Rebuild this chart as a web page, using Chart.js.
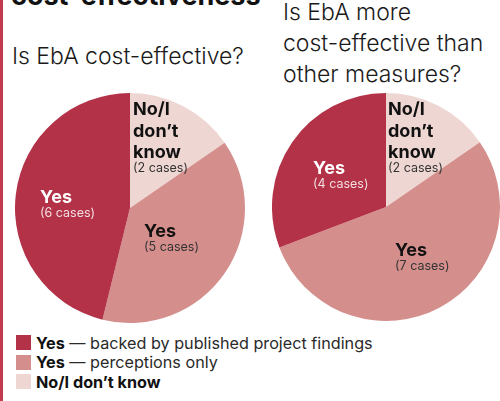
<!DOCTYPE html>
<html>
<head>
<meta charset="utf-8">
<script src="https://cdn.jsdelivr.net/npm/chart.js@4"></script>
<style>
  html, body { margin: 0; padding: 0; }
  body {
    width: 500px; height: 401px; position: relative; overflow: hidden;
    background: #fff; font-family: "Inter", "Roboto", sans-serif; color: #1a1a1a;
  }
  .bar { position: absolute; left: 0; top: 0; width: 3px; height: 401px; background: #c23a50; }
  .head { position: absolute; left: 11px; top: -21px; font-size: 27px; font-weight: 700; color: #111; white-space: nowrap; }
  .title { position: absolute; font-size: 23px; font-weight: 300; line-height: 31px; color: #1a1a1a; white-space: nowrap; }
  #t1 { left: 12px; top: 41px; }
  #t2 { left: 283px; top: -3px; }
  .pie { position: absolute; }
  #left { left: 15px; top: 93px; }
  #right { left: 272px; top: 93px; }
  #legend { position: absolute; left: 16px; top: 333px; font-size: 16.2px; }
  .row { height: 19.5px; display: flex; align-items: center; white-space: nowrap; }
  .sw { width: 15px; height: 15px; margin-right: 5px; flex: none; }
  .row b { font-weight: 700; color: #111; }
  .row span { color: #2a2a2a; }
</style>
</head>
<body>
<div class="bar"></div>
<div class="head">cost-effectiveness</div>
<div class="title" id="t1">Is EbA cost-effective?</div>
<div class="title" id="t2">Is EbA more<br>cost-effective than<br>other measures?</div>
<canvas class="pie" id="left" width="230" height="230"></canvas>
<canvas class="pie" id="right" width="228" height="228"></canvas>
<div id="legend"></div>
<script>
// Kategori (urutan searah jarum jam dari atas)
const categories = ["No/I don't know", "Yes — perceptions only", "Yes — backed by published project findings"];
const leftValues = [2, 5, 6];
const rightValues = [2, 7, 4];
const colors = ["#eed6d3", "#d48f8c", "#b33247"];

// Teks label di dalam potongan
const sliceTitles = [["No/I", "don\u2019t", "know"], ["Yes"], ["Yes"]];
const titleColors = ["#111", "#111", "#fff"];
const casesColors = ["#333", "#333", "#f3dde0"];

// Posisi label relatif ke pusat lingkaran (px)
const leftLabelPos = [[3, -93], [14, 29], [-90, -5]];
const rightLabelPos = [[2, -92], [9, 49], [-73, -33]];

// Plugin untuk menggambar label di dalam pie
const sliceLabels = {
  id: "sliceLabels",
  afterDatasetsDraw(chart, args, opts) {
    const ctx = chart.ctx;
    const meta = chart.getDatasetMeta(0);
    const values = chart.data.datasets[0].data;
    ctx.save();
    ctx.textAlign = "left";
    ctx.textBaseline = "alphabetic";
    meta.data.forEach((arc, i) => {
      const x = arc.x + opts.pos[i][0];
      let y = arc.y + opts.pos[i][1];
      ctx.fillStyle = titleColors[i];
      ctx.font = "700 18px Inter, Roboto, sans-serif";
      sliceTitles[i].forEach((line, j) => {
        if (j > 0) y += 21.5;
        ctx.fillText(line, x, y);
      });
      y += 14;
      ctx.fillStyle = casesColors[i];
      ctx.font = "400 12.5px Inter, Roboto, sans-serif";
      ctx.fillText("(" + values[i] + " cases)", x, y);
    });
    ctx.restore();
  },
};

function makePie(id, values, pos) {
  const ctx = document.getElementById(id).getContext("2d");
  return new Chart(ctx, {
    type: "pie",
    data: {
      labels: categories,
      datasets: [{ data: values, backgroundColor: colors, borderWidth: 0 }],
    },
    options: {
      responsive: false,
      animation: false,
      layout: { padding: 0 },
      plugins: {
        legend: { display: false },
        tooltip: { enabled: false },
        sliceLabels: { pos: pos },
      },
    },
    plugins: [sliceLabels],
  });
}

makePie("left", leftValues, leftLabelPos);
makePie("right", rightValues, rightLabelPos);

// Legend manual (urutan: published, perceptions, no)
const legendOrder = [2, 1, 0];
const legend = document.getElementById("legend");
legendOrder.forEach((i) => {
  const parts = categories[i].split(" — ");
  const row = document.createElement("div");
  row.className = "row";
  row.innerHTML = '<div class="sw" style="background:' + colors[i] + '"></div>' +
    "<b>" + parts[0].replace("'", "\u2019") + "</b>" +
    (parts[1] ? "<span>&nbsp;— " + parts[1] + "</span>" : "");
  legend.appendChild(row);
});
</script>
</body>
</html>
